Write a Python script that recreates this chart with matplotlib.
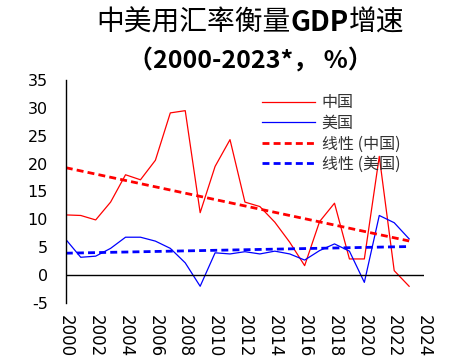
import numpy as np
import matplotlib
matplotlib.use('Agg')
from matplotlib import pyplot as plt

plt.rcParams['font.family'] = ['Noto Sans CJK SC', 'DejaVu Sans']

## Données
annees = list(range(2000, 2024))
chine = [10.8, 10.7, 9.9, 13.1, 18.0, 17.1, 20.6, 29.1, 29.5, 11.2, 19.5, 24.3,
         13.1, 12.3, 9.5, 5.9, 1.7, 9.6, 12.9, 2.9, 2.9, 21.3, 0.8, -2.0]
usa = [6.4, 3.2, 3.4, 4.8, 6.8, 6.8, 6.1, 4.8, 2.2, -2.0, 4.0, 3.8,
       4.2, 3.8, 4.3, 3.8, 2.7, 4.4, 5.6, 4.3, -1.3, 10.7, 9.4, 6.5]
ticks_x = list(range(2000, 2025, 2))
ticks_y = list(range(-5, 36, 5))

## Figure
fig = plt.figure(figsize=(4.77, 3.62), dpi=100)
ax = fig.add_axes([0.138, 0.163, 0.751, 0.616])

x = np.array(annees)
ax.plot(x, chine, color='#ff0000', lw=0.9, label='中国')
ax.plot(x, usa, color='#0000ff', lw=0.9, label='美国')

# Tendances linéaires
pc = np.polyfit(x, chine, 1)
pu = np.polyfit(x, usa, 1)
ax.plot(x, np.polyval(pc, x), color='#ff0000', lw=2, ls=(0, (2.5, 1.5)), label='线性 (中国)')
ax.plot(x, np.polyval(pu, x), color='#0000ff', lw=2, ls=(0, (2.5, 1.5)), label='线性 (美国)')

ax.axhline(0, color='black', lw=1)
ax.set_xlim(2000, 2024)
ax.set_ylim(-5, 35)
ax.set_xticks(ticks_x)
ax.set_xticklabels([str(t) for t in ticks_x], rotation=-90, fontsize=12, family='DejaVu Sans')
ax.set_yticks(ticks_y)
ax.set_yticklabels([str(t) for t in ticks_y], fontsize=11.5, family='DejaVu Sans')
ax.tick_params(axis='x', length=0, pad=9)
ax.tick_params(axis='y', length=0, pad=13)
for s in ['top', 'right', 'bottom']:
    ax.spines[s].set_visible(False)
ax.spines['left'].set_linewidth(1)

leg = ax.legend(loc='upper left', bbox_to_anchor=(0.507, 1.0), frameon=False,
                fontsize=11.5, handlelength=3.3, handletextpad=0.45, labelspacing=0.22)
for t in leg.get_texts():
    t.set_color('#333333')

# Titre : GDP en gras
parts = [('中美用汇率衡量', 'normal'), ('GDP', 'bold'), ('增速', 'normal')]
r = fig.canvas.get_renderer()
tmp = []
for s, w in parts:
    t = fig.text(0, 0, s, fontsize=20, weight=w)
    tmp.append(t.get_window_extent(r).width)
    t.remove()
x0 = 250 - sum(tmp) / 2
for (s, w), wd in zip(parts, tmp):
    fig.text(x0 / 477, 1 - 23 / 362, s, ha='left', va='center', fontsize=20, weight=w)
    x0 += wd
fig.text(250 / 477, 1 - 61 / 362, '（2000-2023*， %）', ha='center', va='center', fontsize=18, weight='bold')

fig.savefig('out.png', dpi=100)
